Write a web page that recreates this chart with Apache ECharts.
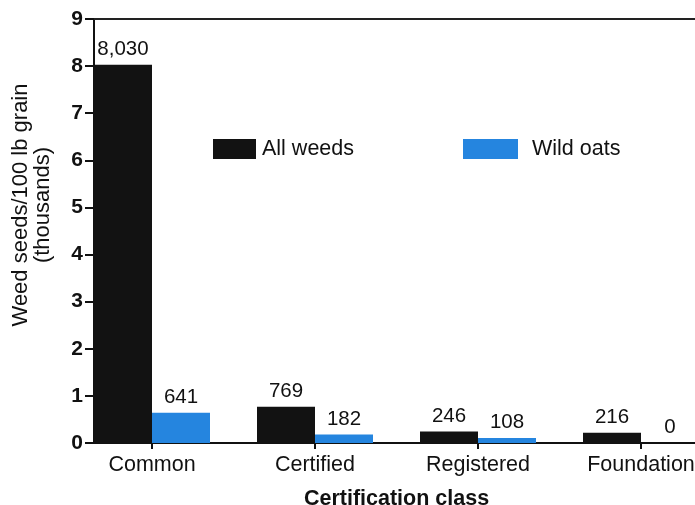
<!DOCTYPE html>
<html><head><meta charset="utf-8">
<script src="https://cdn.jsdelivr.net/npm/echarts@6/dist/echarts.min.js"></script>
<style>html,body{margin:0;padding:0;background:#fff}#c{width:695px;height:505px}</style>
</head><body><div id="c"></div>
<script>
const categories = ['Common', 'Certified', 'Registered', 'Foundation'];
const allWeeds = [8.030, 0.769, 0.246, 0.216];   // thousands of seeds / 100 lb grain
const wildOats = [0.641, 0.182, 0.108, 0];
const yTicks = [0, 1, 2, 3, 4, 5, 6, 7, 8, 9];

const FONT = '"Liberation Sans", Arial, Helvetica, sans-serif';
const BLACK = '#121212';
const BLUE = '#2585df';
const fmt = v => Math.round(v * 1000).toLocaleString('en-US');

const chart = echarts.init(document.getElementById('c'));
chart.setOption({
  animation: false,
  backgroundColor: '#fff',
  textStyle: { fontFamily: FONT, color: '#111' },
  grid: [
    { left: 70.5, width: 652, top: 19, bottom: 62, containLabel: false, outerBoundsMode: 'none' },
    { left: 94, right: -5, top: 19, bottom: 62, containLabel: false, outerBoundsMode: 'none' }
  ],
  legend: [
    { data: ['All weeds'], left: 213, top: 138, padding: 0, itemWidth: 43, itemHeight: 20, icon: 'rect',
      textStyle: { fontSize: 21.5, color: '#111', fontFamily: FONT, padding: [0, 0, 0, 1] } },
    { data: ['Wild oats'], left: 463, top: 138, padding: 0, itemWidth: 55, itemHeight: 20, icon: 'rect',
      textStyle: { fontSize: 21.5, color: '#111', fontFamily: FONT, padding: [0, 0, 0, 9] } }
  ],
  xAxis: [
    { type: 'category', gridIndex: 0, data: categories, boundaryGap: true,
      axisLine: { show: false },
      axisTick: { show: true, alignWithLabel: true, length: 6, lineStyle: { color: '#111', width: 2 } },
      axisLabel: { fontSize: 21.5, color: '#111', margin: 11, fontFamily: FONT },
      name: 'Certification class', nameLocation: 'middle', nameGap: 45,
      nameTextStyle: { fontSize: 21.5, fontWeight: 'bold', color: '#111', fontFamily: FONT } },
    { type: 'value', gridIndex: 1, min: 0, max: 1, position: 'bottom',
      axisLine: { show: true, lineStyle: { color: '#111', width: 2 } },
      axisTick: { show: false }, axisLabel: { show: false }, splitLine: { show: false } },
    { type: 'value', gridIndex: 1, min: 0, max: 1, position: 'top',
      axisLine: { show: true, lineStyle: { color: '#222', width: 2 } },
      axisTick: { show: false }, axisLabel: { show: false }, splitLine: { show: false } }
  ],
  yAxis: [
    { type: 'value', gridIndex: 1, min: yTicks[0], max: yTicks[yTicks.length - 1], interval: 1,
      axisLine: { show: true, lineStyle: { color: '#111', width: 2 } },
      axisTick: { show: true, length: 9, lineStyle: { color: '#111', width: 2 } },
      axisLabel: { fontSize: 21, fontWeight: 'bold', color: '#111', margin: 11, fontFamily: FONT },
      splitLine: { show: false },
      name: 'Weed seeds/100 lb grain\n(thousands)', nameLocation: 'middle', nameGap: 40,
      nameTextStyle: { fontSize: 22, color: '#111', lineHeight: 22, fontFamily: FONT,
                       padding: [0, 0, 0, 52] } },
    { type: 'value', gridIndex: 0, min: 0, max: 9, show: false }
  ],
  series: [
    { name: 'All weeds', type: 'bar', xAxisIndex: 0, yAxisIndex: 1, data: allWeeds,
      barWidth: 58, barGap: '0%', itemStyle: { color: BLACK },
      label: { show: true, position: 'top', distance: 5, fontSize: 20.5, color: '#111', fontFamily: FONT,
               formatter: p => fmt(p.value) } },
    { name: 'Wild oats', type: 'bar', xAxisIndex: 0, yAxisIndex: 1, data: wildOats,
      barWidth: 58, barGap: '0%', itemStyle: { color: BLUE },
      label: { show: true, position: 'top', distance: 5, fontSize: 20.5, color: '#111', fontFamily: FONT,
               formatter: p => fmt(p.value) } }
  ]
});
</script></body></html>
